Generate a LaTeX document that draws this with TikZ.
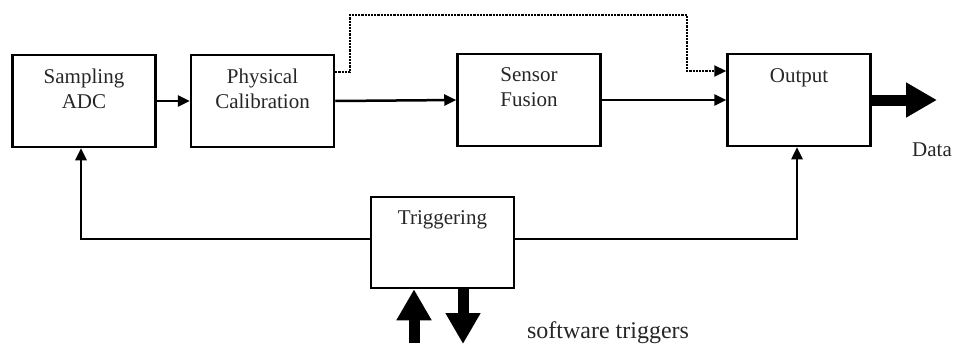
\documentclass[tikz,border=0pt]{standalone}
\usepackage{fontspec}
\setmainfont{Liberation Serif}
\usetikzlibrary{arrows.meta}

\begin{document}
\begin{tikzpicture}[x=1pt,y=-1pt,
  blk/.style={draw=black, line width=2.5pt, minimum width=143pt, minimum height=92pt, inner sep=0pt},
  lbl/.style={anchor=north, align=center, inner sep=0pt, text=black!85,
              font=\fontsize{21}{24.5}\selectfont},
  wire/.style={line width=2.5pt, -{Triangle[length=12pt,width=11pt]}},
  fat/.style={line width=11pt, -{Triangle[length=31pt,width=33pt]}}
]
\useasboundingbox (0,0) rectangle (962,349);

% processing blocks
\node[blk] (adc) at (84,101) {};
\node[blk] (cal) at (262.5,101) {};
\node[blk] (fus) at (529,100) {};
\node[blk] (out) at (799,100) {};
\node[blk, minimum height=91pt] (trg) at (442.5,242.5) {};

% block captions
\node[lbl] (adcT) at ([yshift=-15pt]adc.north) {Sampling\\ADC};
\node[lbl] (calT) at ([yshift=-15pt]cal.north) {Physical\\Calibration};
\node[lbl] (fusT) at ([yshift=-15pt]fus.north) {Sensor\\Fusion};
\node[lbl] (outT) at ([yshift=-16pt]out.north) {Output};
\node[lbl] (trgT) at ([yshift=-15pt]trg.north) {Triggering};

% main data path
\draw[wire] (adc.east) -- (cal.west);
\draw[wire] (cal.east) -- (fus.west);
\draw[wire] (fus.east) -- (out.west);

% bypass from calibration straight to output
\coordinate (byA) at (350,72);
\coordinate (byB) at (350,15);
\coordinate (byC) at (687,15);
\coordinate (byD) at (687,71);
\draw[line width=2.2pt, densely dotted, -{Triangle[length=12pt,width=11pt]}]
  ([yshift=29pt]cal.east) -- (byA) -- (byB) -- (byC) -- (byD) -- ([yshift=29pt]out.west);

% trigger lines
\draw[wire] ([yshift=3.5pt]trg.west) -| ([xshift=-3pt]adc.south);
\draw[wire] ([yshift=3.5pt]trg.east) -| ([xshift=-2pt]out.south);

% data output
\coordinate (dataEnd) at (937,100);
\draw[fat] (out.east) -- (dataEnd);
\node[lbl, anchor=center] (data) at (932,150) {Data};

% software trigger in/out
\coordinate (swIn) at (414,343);
\coordinate (swOut) at (463,344);
\draw[fat] (swIn) -- (swIn |- trg.south);
\draw[fat] (swOut |- trg.south) -- (swOut);
\node[lbl, anchor=center, font=\fontsize{24}{27}\selectfont] (sw) at (608,333) {software triggers};
\end{tikzpicture}
\end{document}
